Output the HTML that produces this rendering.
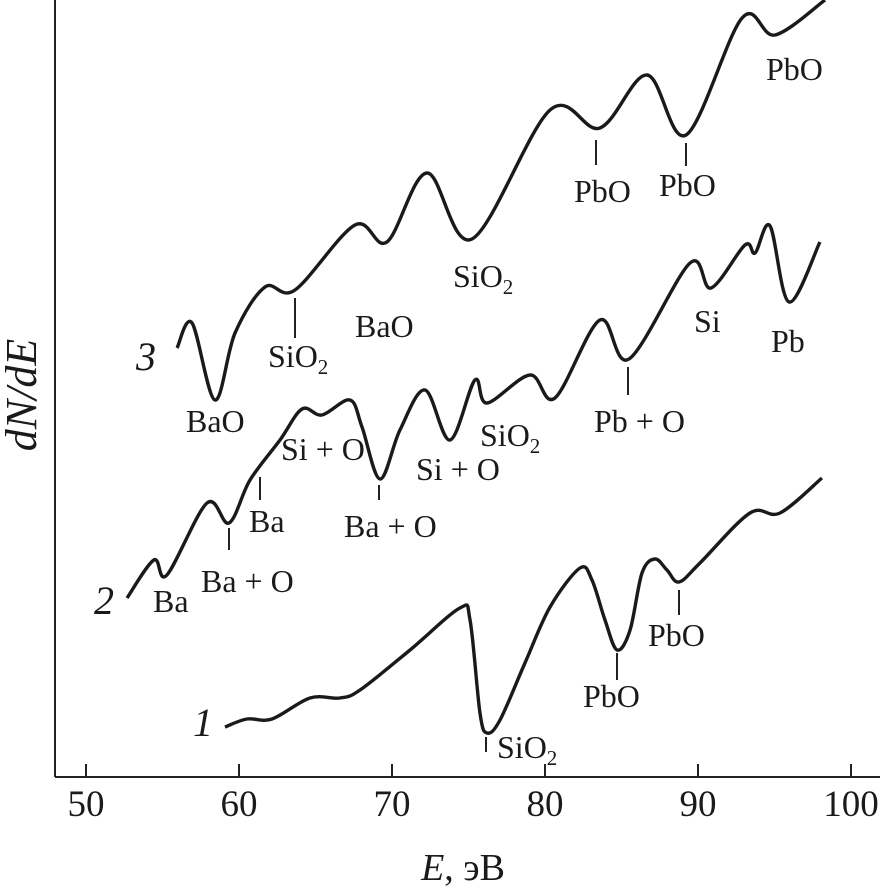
<!DOCTYPE html>
<html><head><meta charset="utf-8"><style>
body{margin:0;background:#fff}
svg{display:block}
text{font-family:"Liberation Serif",serif;fill:#1a1a1a}
</style></head><body>
<svg id="chart" width="884" height="896" viewBox="0 0 884 896" xmlns="http://www.w3.org/2000/svg">
<g id="axes"></g>
<g id="curves"></g>
<g id="labels"></g>
</svg>
<script>
const xTicks = [50, 60, 70, 80, 90, 100];
const e1 = [59.08,60.52,62.16,64.64,66.60,67.91,71.18,74.44,75.10,75.75,76.21,77.06,78.69,80.33,82.29,83.07,83.92,84.71,85.56,86.34,87.19,87.97,88.76,90.13,93.40,95.36,98.10];
const v1 = [50,58,58,79,79,87,127,169,157,64,44,57,114,170,209,197,157,127,147,204,218,207,195,214,264,264,299];
const e2 = [52.68,54.44,55.29,57.91,59.35,60.72,62.68,64.12,65.42,67.25,68.04,69.22,70.52,72.16,73.79,75.42,76.21,79.02,80.65,83.59,85.49,89.48,90.85,93.07,93.73,94.71,95.95,97.97];
const v2 = [179,217,202,274,254,297,337,368,362,377,350,298,347,387,337,397,374,402,379,457,418,514,489,532,524,551,475,535];
const e3 = [55.95,56.93,58.43,59.74,61.70,63.66,67.58,69.67,72.29,75.23,80.33,83.59,86.67,89.22,92.88,95.03,98.30];
const v3 = [429,454,377,444,490,487,552,535,604,538,667,649,702,642,759,742,777];

const NS = "http://www.w3.org/2000/svg";
const X0 = 86, PX = 15.3, Y0 = 777;
function xs(e){ return X0 + (e - 50) * PX; }
function ys(v){ return Y0 - v; }
function mk(tag, attrs, parent){
  const el = document.createElementNS(NS, tag);
  for (const k in attrs) el.setAttribute(k, attrs[k]);
  parent.appendChild(el);
  return el;
}
const axes = document.getElementById('axes');
let a = mk('line',{x1:55,y1:0,x2:55,y2:Y0,stroke:'#222','stroke-width':2},axes);


a = mk('line',{x1:55,y1:Y0,x2:880,y2:Y0,stroke:'#222','stroke-width':2},axes);


xTicks.forEach(t=>{
  const tk = mk('line',{x1:xs(t),y1:Y0,x2:xs(t),y2:Y0-13,stroke:'#222','stroke-width':2},axes);
  
  
  const tl = mk('text',{x:xs(t),y:816,'font-size':37,'text-anchor':'middle'},axes);
  tl.textContent = t;
  
  
});
let xt = mk('text',{x:463,y:880,'font-size':38,'text-anchor':'middle'},axes);
xt.innerHTML = '<tspan font-style="italic">E</tspan>, эВ';


let yt = mk('text',{x:0,y:0,'font-size':44,'font-style':'italic','text-anchor':'middle',transform:'translate(36,395) rotate(-90)'},axes);
yt.textContent = 'dN/dE';



function pathFrom(E, V){
  const p = E.map((e,i)=>[xs(e), ys(V[i])]);
  let d = 'M' + p[0][0] + ',' + p[0][1];
  for (let i=0;i<p.length-1;i++){
    const p0 = p[Math.max(0,i-1)], p1 = p[i], p2 = p[i+1], p3 = p[Math.min(p.length-1,i+2)];
    const c1x = p1[0] + (p2[0]-p0[0])/6, c1y = p1[1] + (p2[1]-p0[1])/6;
    const c2x = p2[0] - (p3[0]-p1[0])/6, c2y = p2[1] - (p3[1]-p1[1])/6;
    d += ' C' + c1x + ',' + c1y + ' ' + c2x + ',' + c2y + ' ' + p2[0] + ',' + p2[1];
  }
  return d;
}
const curves = document.getElementById('curves');
[[e1,v1,'curve-1'],[e2,v2,'curve-2'],[e3,v3,'curve-3']].forEach(c=>{
  const el = mk('path',{d:pathFrom(c[0],c[1]),fill:'none',stroke:'#1a1a1a','stroke-width':3.4,'stroke-linejoin':'round'},curves);
  
  
});

const labs = document.getElementById('labels');
const texts = [
 [766,80,'PbO'],[574,202,'PbO'],[659,196,'PbO'],[453,287,'SiO<tspan font-size="21" dy="7">2</tspan>'],
 [355,337,'BaO'],[268,367,'SiO<tspan font-size="21" dy="7">2</tspan>'],[186,432,'BaO'],
 [694,332,'Si'],[771,352,'Pb'],[594,432,'Pb + O'],[480,446,'SiO<tspan font-size="21" dy="7">2</tspan>'],
 [281,460,'Si + O'],[416,480,'Si + O'],[344,537,'Ba + O'],[249,532,'Ba'],[201,592,'Ba + O'],
 [153,612,'Ba'],[648,646,'PbO'],[583,707,'PbO'],[497,758,'SiO<tspan font-size="21" dy="7">2</tspan>']
];
texts.forEach(t=>{
  const el = mk('text',{x:t[0],y:t[1],'font-size':32},labs);
  el.innerHTML = t[2];
  
  
});
[[136,370,'3'],[94,614,'2'],[193,736,'1']].forEach(t=>{
  const el = mk('text',{x:t[0],y:t[1],'font-size':40,'font-style':'italic'},labs);
  el.textContent = t[2];
  
  
});
[[295,298,338],[596,140,165],[686,143,166],[628,367,395],[379,485,500],[260,477,500],[229,528,550],[617,653,680],[679,590,615],[486,737,752]].forEach(m=>{
  const el = mk('line',{x1:m[0],y1:m[1],x2:m[0],y2:m[2],stroke:'#222','stroke-width':2},labs);
  
  
});
</script>
</body></html>
